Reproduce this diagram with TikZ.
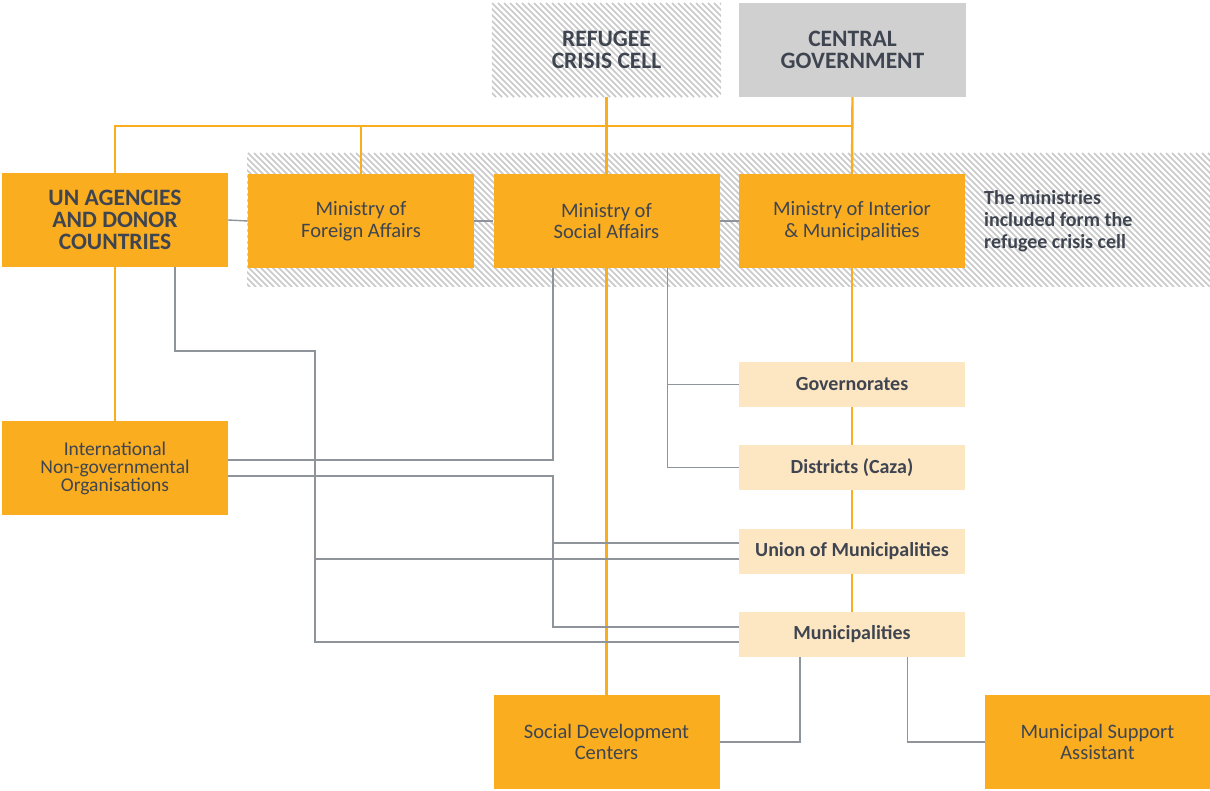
\documentclass[tikz,border=0pt]{standalone}
\usepackage{fontspec}
\setmainfont{Carlito}
\usetikzlibrary{calc}
\pgfdeclarelayer{hatch}
\pgfdeclarelayer{background}
\pgfsetlayers{hatch,background,main}
\definecolor{orng}{RGB}{249,173,31}
\definecolor{lightorng}{RGB}{253,230,194}
\definecolor{txt}{RGB}{63,69,80}
\definecolor{cgrey}{RGB}{208,208,208}
\definecolor{hatchc}{RGB}{200,200,200}
\definecolor{lgrey}{RGB}{143,148,155}
\begin{document}
\begin{tikzpicture}[x=1pt,y=-1pt,
  box/.style={fill=orng, text=txt, minimum width=226pt, minimum height=94pt, inner sep=0pt, align=center, font=\fontsize{20.5}{21.5}\selectfont},
  bigbox/.style={box, font=\bfseries\fontsize{23.5}{22}\selectfont},
  lightbox/.style={fill=lightorng, text=txt, minimum width=226pt, minimum height=45pt, inner sep=0pt, align=center, font=\bfseries\fontsize{20}{21}\selectfont},
  ol/.style={draw=orng, line width=2.4pt},
  gl/.style={draw=lgrey, line width=1.4pt},
  hl/.style={draw=hatchc, line width=1.5pt}]
\useasboundingbox (0,0) rectangle (1210,791);

% top boxes
\node[bigbox, fill=none, minimum width=229pt] (rcc) at (606.5,50) {REFUGEE\\CRISIS CELL};
\node[bigbox, fill=cgrey, minimum width=227pt] (cg) at (852.5,50) {CENTRAL\\GOVERNMENT};

% ministries row
\node[bigbox] (un) at (115,220) {UN AGENCIES\\AND DONOR\\COUNTRIES};
\node[box] (mfa) at (361,221) {Ministry of\\Foreign Affairs};
\node[box] (msa) at (606.5,221) {Ministry of\\Social Affairs};
\node[box] (mim) at (852,221) {Ministry of Interior\\\& Municipalities};
\node[anchor=west, align=left, text=txt, inner sep=0pt, font=\bfseries\fontsize{20}{22}\selectfont] (note) at (984,221) {The ministries\\included form the\\refugee crisis cell};

% INGO
\node[box, font=\fontsize{19.5}{18}\selectfont] (ingo) at (115,468) {International\\Non-governmental\\Organisations};

% local levels
\node[lightbox] (gov) at (852,384.5) {Governorates};
\node[lightbox] (dist) at (852,467.5) {Districts (Caza)};
\node[lightbox] (union) at (852,551.5) {Union of Municipalities};
\node[lightbox] (muni) at (852,634.5) {Municipalities};

% bottom
\node[box] (sdc) at (606.5,742) {Social Development\\Centers};
\node[box, minimum width=225pt] (msas) at (1097.5,742) {Municipal Support\\Assistant};

% hatching
\begin{pgfonlayer}{hatch}
\begin{scope}
\clip (247,153) rectangle (1210,287);
\foreach \i in {110,116,...,1214} \draw[hl] (\i,153) -- ++(134,134);
\end{scope}
\begin{scope}
\clip (rcc.north west) rectangle (rcc.south east);
\foreach \i in {396,402,...,726} \draw[hl] (\i,3) -- ++(94,94);
\end{scope}
\end{pgfonlayer}

% connectors
\begin{pgfonlayer}{background}
\coordinate (bus) at (0,126);
\draw[ol] (un.north) |- (cg.south |- bus);
\draw[ol] (mfa.north) -- (mfa.north |- bus);
\draw[ol] (cg.south) -- (mim.north);
\draw[ol] (rcc.south) -- (msa.north);
\draw[ol] (msa.south) -- (sdc.north);
\draw[ol] (mim.south) -- (muni.north);
\draw[ol] (un.south) -- (ingo.north);

\draw[gl] (un.east) -- (mfa.west);
\draw[gl] (mfa.east) -- (msa.west);
\draw[gl] (msa.east) -- (mim.west);

% MSA -> INGO
\draw[gl] ($(msa.south west)+(59.5,0)$) |- ($(ingo.east)+(0,-8)$);
% INGO -> union / municipalities
\draw[gl] ($(ingo.east)+(0,8)$) -| ($(muni.west)+(-186,-7.5)$) -- ($(muni.west)+(0,-7.5)$);
\draw[gl] ($(union.west)+(-186,-8.5)$) -- ($(union.west)+(0,-8.5)$);
% UN -> union / municipalities
\draw[gl] ($(un.south west)+(173,0)$) -- ++(0,84) -| ($(muni.west)+(-424,7.5)$) -- ($(muni.west)+(0,7.5)$);
\draw[gl] ($(union.west)+(-424,7.5)$) -- ($(union.west)+(0,7.5)$);
% MSA -> governorates / districts
\draw[gl] ($(msa.south east)+(-52.5,0)$) |- (dist.west);
\draw[gl] ($(gov.west)+(-72,0)$) -- (gov.west);
% municipalities -> bottom
\draw[gl] ($(muni.south west)+(61,0)$) |- (sdc.east);
\draw[gl] ($(muni.south east)+(-58,0)$) |- (msas.west);
\end{pgfonlayer}
\end{tikzpicture}
\end{document}
